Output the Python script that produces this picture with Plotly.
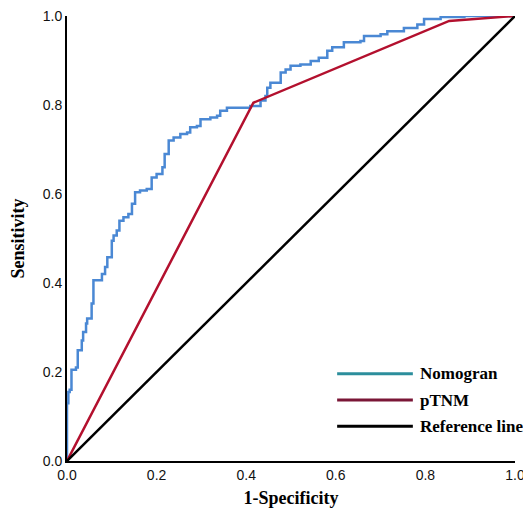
import plotly.graph_objects as go

# ---- data ----
nomo_fpr = [0.0, 0.0, 0.003, 0.006, 0.01, 0.01, 0.02, 0.02, 0.024, 0.033,
            0.036, 0.0425, 0.045, 0.055, 0.055, 0.059, 0.074, 0.078, 0.085, 0.09,
            0.1, 0.104, 0.111, 0.117, 0.126, 0.137, 0.145, 0.152, 0.163, 0.178,
            0.189, 0.2, 0.213, 0.218, 0.227, 0.238, 0.253, 0.268, 0.275, 0.29,
            0.298, 0.32, 0.335, 0.342, 0.357, 0.387, 0.409, 0.432, 0.443, 0.447,
            0.454, 0.477, 0.488, 0.499, 0.521, 0.544, 0.562, 0.581, 0.592, 0.618,
            0.655, 0.663, 0.7, 0.715, 0.752, 0.782, 0.797, 0.834, 0.887, 1.0]
nomo_tpr = [0.0, 0.13, 0.155, 0.16, 0.2, 0.205, 0.205, 0.21, 0.249, 0.271,
            0.29, 0.309, 0.32, 0.32, 0.354, 0.406, 0.406, 0.42, 0.436, 0.458,
            0.495, 0.507, 0.518, 0.54, 0.548, 0.555, 0.578, 0.604, 0.608, 0.611,
            0.637, 0.645, 0.66, 0.69, 0.72, 0.727, 0.735, 0.738, 0.75, 0.753,
            0.768, 0.772, 0.776, 0.787, 0.794, 0.794, 0.798, 0.81, 0.82, 0.839,
            0.85, 0.873, 0.88, 0.888, 0.891, 0.899, 0.906, 0.922, 0.93, 0.941,
            0.944, 0.955, 0.959, 0.966, 0.973, 0.981, 0.993, 0.998, 1.0, 1.0]

ptnm_fpr = [0.0, 0.416, 0.853, 1.0]
ptnm_tpr = [0.0, 0.805, 0.989, 1.0]

ref_fpr = [0.0, 1.0]
ref_tpr = [0.0, 1.0]

tick_vals = [0.0, 0.2, 0.4, 0.6, 0.8, 1.0]
tick_text = ["0.0", "0.2", "0.4", "0.6", "0.8", "1.0"]

legend_labels = ["Nomogran", "pTNM", "Reference line"]
legend_colors = ["#2c8e9c", "#7a1636", "#000000"]

line_colors = ["#4a88d4", "#b3102e", "#000000"]
line_shapes = ["hv", "linear", "linear"]

fig = go.Figure()
series = [(nomo_fpr, nomo_tpr), (ptnm_fpr, ptnm_tpr), (ref_fpr, ref_tpr)]
for (xs, ys), col, shp, name in zip(series, line_colors, line_shapes, legend_labels):
    fig.add_trace(go.Scatter(x=xs, y=ys, mode="lines", name=name,
                             line=dict(color=col, width=2.5, shape=shp),
                             cliponaxis=False, showlegend=False))

# manual legend (long line samples as in the reference)
leg_x0, leg_x1, leg_y0, leg_dy = 0.603, 0.772, 0.196, 0.059
for i, (lab, col) in enumerate(zip(legend_labels, legend_colors)):
    yy = leg_y0 - i * leg_dy
    fig.add_shape(type="line", xref="paper", yref="paper",
                  x0=leg_x0, x1=leg_x1, y0=yy, y1=yy,
                  line=dict(color=col, width=3))
    fig.add_annotation(xref="paper", yref="paper", x=leg_x1 + 0.012, y=yy,
                       text="<b>" + lab + "</b>", showarrow=False,
                       xanchor="left", yanchor="middle",
                       font=dict(family="Liberation Serif", size=17, color="#000"))

axis_common = dict(range=[0, 1], tickvals=tick_vals, ticktext=tick_text,
                   showgrid=False, zeroline=False, showline=True, automargin=False,
                   ticklabeloverflow="allow",
                   linecolor="#000", linewidth=2, ticks="",
                   tickfont=dict(family="Liberation Sans", size=14, color="#111"))

# the page body adds an 8px offset at top/left
fig.update_layout(
    width=523, height=506,
    margin=dict(l=59, r=16, t=8, b=53),
    paper_bgcolor="white", plot_bgcolor="white",
    xaxis=dict(**axis_common,
               title=dict(text="<b>1-Specificity</b>", standoff=10,
                          font=dict(family="Liberation Serif", size=18, color="#000"))),
    yaxis=dict(**axis_common,
               title=dict(text="<b>Sensitivity</b>", standoff=14,
                          font=dict(family="Liberation Serif", size=18, color="#000"))),
)

fig.write_html("out.html")
